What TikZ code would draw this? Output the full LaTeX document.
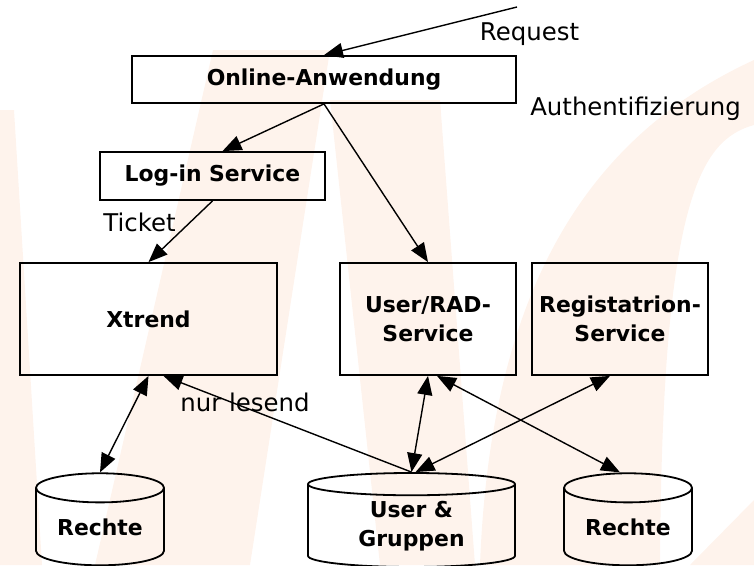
\documentclass[tikz,border=0pt]{standalone}
\usepackage{fontspec}
\setmainfont{DejaVu Sans}
\usetikzlibrary{positioning, arrows.meta, shapes.geometric}
\definecolor{wmark}{HTML}{FEF3EC}

\begin{document}
\begin{tikzpicture}[
  x=1pt, y=-1pt,
  font=\fontsize{24.4}{29}\selectfont,
  >={Triangle[length=19pt,width=15pt]},
  box/.style={
    draw=black, line width=1.8pt,
    align=center, inner sep=0pt,
    font=\fontsize{21.9}{29}\selectfont\bfseries
  },
  store/.style={box, cylinder, shape border rotate=90},
  link/.style={line width=1.4pt},
  lbl/.style={anchor=base, inner sep=0pt},
]

% ---- page (pixel grid of the slide) ----
\useasboundingbox (0,0) rectangle (754,565);

% =====================================================
% SLIDE WATERMARK (faint beams in the background)
% =====================================================
\fill[wmark] (0,110) -- (14,110) -- (42,565) -- (0,565) -- cycle;
\fill[wmark] (213,50) -- (330,50) -- (250,565) -- (95,565) -- cycle;
\fill[wmark] (330,100) -- (440,100) -- (475,565) -- (380,565) -- cycle;
\fill[wmark] (480,565) .. controls (490,300) and (580,140) .. (754,60)
  -- (754,125) .. controls (700,140) and (662,200) .. (660,565) -- cycle;
\fill[wmark] (690,565) -- (754,500) -- (754,565) -- cycle;

% =====================================================
% SERVICES (boxes)
% =====================================================
\node[box, minimum width=384pt, minimum height=47pt] (online) at (324,79.5)
  {Online-Anwendung};
\node[box, minimum width=225pt, minimum height=48pt] (login) at (212.5,176)
  {Log-in Service};
\node[box, minimum width=257pt, minimum height=112pt] (xtrend) at (148.5,319)
  {Xtrend};
\node[box, minimum width=176pt, minimum height=112pt] (userrad) at (428,319)
  {User/RAD-\\Service};
\node[box, minimum width=176pt, minimum height=112pt] (regserv) at (620,319)
  {Registatrion-\\Service};

% =====================================================
% DATA STORES (cylinders)
% =====================================================
\node[store, minimum width=128pt, minimum height=92pt, aspect=0.34] (rechteL)
  at (100,527) {Rechte};
\node[store, minimum width=207pt, minimum height=94pt, aspect=0.21] (usergrp)
  at (411.5,526) {User \&\\Gruppen};
\node[store, minimum width=128pt, minimum height=92pt, aspect=0.34] (rechteR)
  at (628,527) {Rechte};

% =====================================================
% EDGE LABELS
% =====================================================
\node[lbl] (request)  at (529.5,40)  {Request};
\node[lbl] (authlbl)  at (635.5,115) {Authentifizierung};
\node[lbl] (ticket)   at (139.5,231) {Ticket};
\node[lbl] (readonly) at (245,411)   {nur lesend};

% =====================================================
% CONNECTORS
% =====================================================
\coordinate (client) at (517,7);
\draw[link, ->] (client) -- (online.north);
\draw[link, ->] (online.south) -- ([xshift=10pt]login.north);
\draw[link, ->] (online.south) -- (userrad.north);
\draw[link, ->] (login.south) -- (xtrend.north);
\draw[link, <->] (rechteL.north) -- (xtrend.south);
\draw[link, ->] (usergrp.north) -- ([xshift=15pt]xtrend.south);
\draw[link, <->] (usergrp.north) -- (userrad.south);
\draw[link, <->] ([xshift=4pt]usergrp.north) -- ([xshift=-10pt]regserv.south);
\draw[link, <->] ([xshift=9pt]userrad.south) -- ([xshift=-8pt]rechteR.north);

\end{tikzpicture}
\end{document}
